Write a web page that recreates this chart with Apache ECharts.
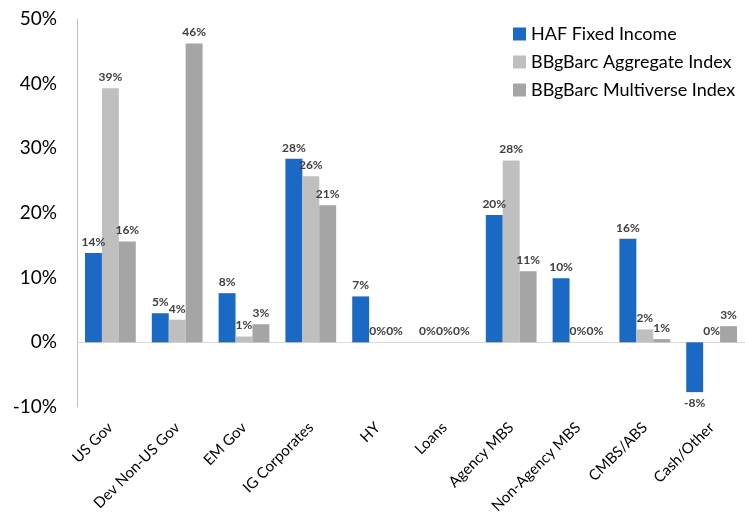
<!DOCTYPE html>
<html><head><meta charset="utf-8">
<script src="https://cdn.jsdelivr.net/npm/echarts@6/dist/echarts.min.js"></script>
<style>html,body{margin:0;padding:0;background:#fff}#c{width:745px;height:525px}</style>
</head><body><div id="c"></div>
<script>
var categories = ['US Gov','Dev Non-US Gov','EM Gov','IG Corporates','HY','Loans','Agency MBS','Non-Agency MBS','CMBS/ABS','Cash/Other'];
var seriesNames = ['HAF Fixed Income','BBgBarc Aggregate Index','BBgBarc Multiverse Index'];
var hafValues = [13.8, 4.5, 7.6, 28.4, 7.1, 0, 19.7, 9.9, 16.0, -7.7];
var aggValues = [39.3, 3.5, 0.9, 25.7, 0, 0, 28.1, 0, 2.0, 0];
var multiValues = [15.6, 46.2, 2.8, 21.2, 0, 0, 11.0, 0, 0.5, 2.5];
var yTicks = [-10, 0, 10, 20, 30, 40, 50];
var colors = ['#1a69c4', '#bfbfbf', '#a5a5a5'];
var FONT = 'Lato';

function mk(name, data, color) {
  return {
    name: name, type: 'bar', data: data, barGap: '0%', barCategoryGap: '24%',
    itemStyle: { color: color },
    label: {
      show: true, position: 'top', distance: 5,
      fontFamily: FONT, fontSize: 12, fontWeight: 'bold', color: '#404040',
      formatter: function (p) { return Math.round(p.value) + '%'; }
    }
  };
}
var s = [mk(seriesNames[0], hafValues.map(function(v){
  return v < 0 ? {value: v, label: {position: 'bottom'}} : v;
}), colors[0]), mk(seriesNames[1], aggValues, colors[1]), mk(seriesNames[2], multiValues, colors[2])];

var chart = echarts.init(document.getElementById('c'), null, {renderer: 'canvas'});
chart.setOption({
  animation: false,
  color: colors,
  textStyle: { fontFamily: FONT },
  grid: { left: 77, right: 0, top: 19, bottom: 118, containLabel: false, outerBoundsMode: 'none' },
  legend: {
    orient: 'vertical', left: 508, top: 20, itemGap: 10,
    itemWidth: 13, itemHeight: 13, icon: 'rect',
    textStyle: { fontFamily: FONT, fontSize: 18, color: '#000' },
    data: seriesNames
  },
  xAxis: {
    type: 'category', data: categories,
    axisLine: { onZero: true, lineStyle: { color: '#d9d9d9', width: 1 } },
    axisTick: { show: false },
    axisLabel: { interval: 0, rotate: 45, fontFamily: FONT, fontSize: 15, color: '#000', margin: 18 }
  },
  yAxis: {
    type: 'value', min: yTicks[0], max: yTicks[yTicks.length - 1], interval: 10,
    axisLine: { show: true, lineStyle: { color: '#bfbfbf' } },
    axisTick: { show: false },
    splitLine: { show: false },
    axisLabel: { fontFamily: FONT, fontSize: 19, color: '#000', margin: 20,
      formatter: function (v) { return v + '%'; } }
  },
  series: s
});
</script></body></html>
